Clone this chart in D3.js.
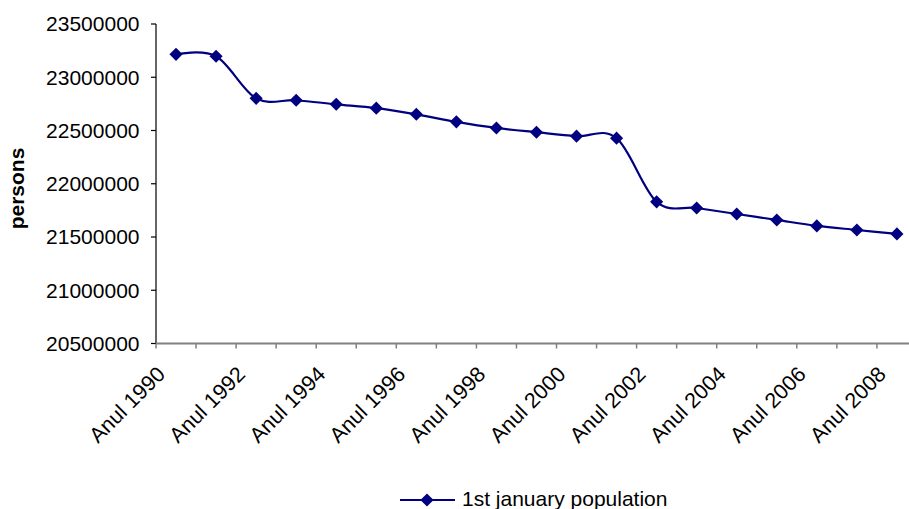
<!DOCTYPE html>
<html>
<head>
<meta charset="utf-8">
<script src="https://cdn.jsdelivr.net/npm/d3@7"></script>
<style>
  html, body { margin: 0; padding: 0; background: #fff; }
  svg { display: block; }
  text { font-family: "Liberation Sans", Arial, sans-serif; fill: #000; }
</style>
</head>
<body>
<svg id="chart" width="909" height="509"></svg>
<script>
// Population on 1 January, by year
const years = ["Anul 1990","Anul 1991","Anul 1992","Anul 1993","Anul 1994","Anul 1995","Anul 1996",
  "Anul 1997","Anul 1998","Anul 1999","Anul 2000","Anul 2001","Anul 2002","Anul 2003","Anul 2004",
  "Anul 2005","Anul 2006","Anul 2007","Anul 2008"];
const population = [23215000, 23197000, 22802000, 22784000, 22746000, 22710000, 22652000,
  22581000, 22524000, 22484000, 22447000, 22428000, 21830000, 21772000, 21716000,
  21660000, 21604000, 21566000, 21529000];
const yTicks = [20500000, 21000000, 21500000, 22000000, 22500000, 23000000, 23500000];
const seriesName = "1st january population";
const yTitle = "persons";

const svg = d3.select("#chart");
const W = 909, H = 509;
const plotLeft = 156, plotTop = 24, plotBottom = 343.5;
const catW = 40.05;
const navy = "#000080";

const x = d3.scaleBand().domain(years).range([plotLeft, plotLeft + catW * years.length]).paddingInner(0).paddingOuter(0);
const y = d3.scaleLinear().domain([20500000, 23500000]).range([plotBottom, plotTop]);

// y axis
const yAxis = svg.append("g");
yAxis.append("line").attr("x1", plotLeft).attr("x2", plotLeft).attr("y1", plotTop).attr("y2", plotBottom)
  .attr("stroke", "#000").attr("stroke-width", 1.2);
yAxis.selectAll("line.tick").data(yTicks).enter().append("line")
  .attr("class", "tick")
  .attr("x1", plotLeft - 5).attr("x2", plotLeft)
  .attr("y1", d => y(d)).attr("y2", d => y(d))
  .attr("stroke", "#000").attr("stroke-width", 1.2);
yAxis.selectAll("text").data(yTicks).enter().append("text")
  .attr("x", 139.5).attr("y", d => y(d)).attr("dy", "0.35em")
  .attr("text-anchor", "end").attr("font-size", 21)
  .text(d => d3.format("d")(d));

// x axis
const xAxis = svg.append("g");
xAxis.append("line").attr("x1", plotLeft).attr("x2", W).attr("y1", plotBottom).attr("y2", plotBottom)
  .attr("stroke", "#808080").attr("stroke-width", 2);
const bounds = d3.range(years.length + 1).map(i => plotLeft + i * x.bandwidth());
xAxis.selectAll("line.tick").data(bounds).enter().append("line")
  .attr("class", "tick")
  .attr("x1", d => d).attr("x2", d => d)
  .attr("y1", plotBottom).attr("y2", plotBottom + 5)
  .attr("stroke", "#808080").attr("stroke-width", 1.5);
xAxis.selectAll("text").data(years.filter((d, i) => i % 2 === 0)).enter().append("text")
  .attr("text-anchor", "end").attr("font-size", 21.5)
  .attr("transform", d => `translate(${x(d) + x.bandwidth() / 2 - 9.6},375.6) rotate(-45)`)
  .text(d => d);

// y title
svg.append("text")
  .attr("transform", "translate(24,188.5) rotate(-90)")
  .attr("text-anchor", "middle").attr("font-size", 21).attr("font-weight", "bold")
  .text(yTitle);

// series line
const pts = years.map((d, i) => [x(d) + x.bandwidth() / 2, y(population[i])]);
svg.append("path")
  .attr("d", d3.line().curve(d3.curveCardinal.tension(0))(pts))
  .attr("fill", "none").attr("stroke", navy).attr("stroke-width", 2.2);

const diamond = d3.symbol(d3.symbolSquare, 86)();
svg.selectAll("path.marker").data(pts).enter().append("path")
  .attr("class", "marker")
  .attr("d", diamond)
  .attr("transform", d => `translate(${d[0]},${d[1]}) rotate(45)`)
  .attr("fill", navy);

// legend
const lg = svg.append("g");
lg.append("line").attr("x1", 400).attr("x2", 455).attr("y1", 500).attr("y2", 500)
  .attr("stroke", navy).attr("stroke-width", 2.2);
lg.append("path").attr("d", diamond).attr("transform", "translate(427,500) rotate(45)").attr("fill", navy);
lg.append("text").attr("x", 462).attr("y", 506).attr("font-size", 21).text(seriesName);
</script>
</body>
</html>
